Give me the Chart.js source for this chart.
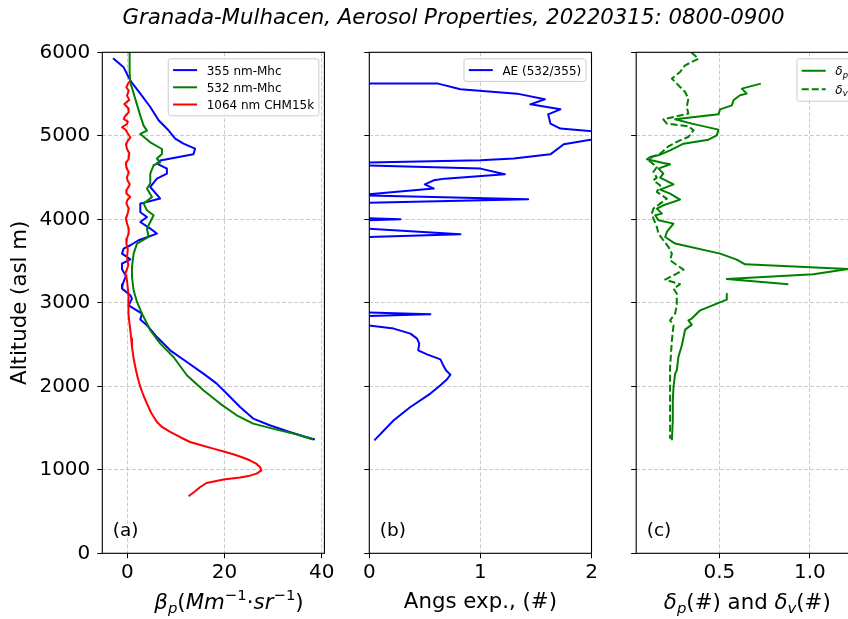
<!DOCTYPE html>
<html><head><meta charset="utf-8">
<script src="https://cdn.jsdelivr.net/npm/chart.js@4.4.1/dist/chart.umd.min.js"></script>
<style>
html,body{margin:0;padding:0;background:#fff;overflow:hidden;width:848px;height:619px;}
canvas{position:absolute;left:0;top:0;}
</style></head><body>
<canvas id="ca" width="848" height="619"></canvas>
<canvas id="cb" width="848" height="619"></canvas>
<canvas id="cc" width="870" height="619"></canvas>
<script>
// ---------------- data ----------------
const yTicks = [0, 1000, 2000, 3000, 4000, 5000, 6000];
const yTickLabels = ['0', '1000', '2000', '3000', '4000', '5000', '6000'];
const xTicksA = [0, 20, 40],   xTickLabelsA = ['0', '20', '40'];
const xTicksB = [0, 1, 2],     xTickLabelsB = ['0', '1', '2'];
const xTicksC = [0.5, 1.0],    xTickLabelsC = ['0.5', '1.0'];

// (a) backscatter coefficient, Mm-1 sr-1
const alt355 = [5928,5820,5661,5505,5345,5186,5066,4966,4906,4846, 4780,4703,4667,4607,4547,4487,4387,4248,4188,4084,
  4027,3968,3889,3829,3749,3689,3649,3589,3521,3470, 3401,3320,3222,3170,3090,3050,2970,2871,2799,2731,
  2590,2431,2291,2152,2032,1913,1752,1613,1533,1453, 1401,1362];
const beta355 = [-2.93,-0.76,0.62,2.67,4.72,6.43,8.47,9.85,11.55,13.95, 13.6,6.77,6.09,8.14,8.14,6.09,4.72,6.77,2.67,2.67,
  4.04,2.67,4.72,6.09,2.32,0.62,-0.76,-1.09,0.62,-1.09, -1.09,-0.3,-0.96,-1.09,0.62,0.96,0.27,3.02,2.67,4.04,
  6.09,8.82,12.25,15.65,18.4,20.45,23.2,25.9,29.3,33.4, 36.2,38.6];

const alt532 = [6000,5760,5640,5441,5242,5122,5062,5022,4922,4842, 4782,4727,4683,4647,4547,4428,4368,4267,4188,4108,
  4048,3968,3889,3788,3709,3589,3429,3309,3150,3010, 2871,2671,2511,2351,2132,1952,1793,1653,1553,1481, 1425,1362];
const beta532 = [0.47,0.47,0.62,1.64,2.67,3.35,4.04,2.67,4.72,7.12, 7.12,6.09,6.77,5.4,4.72,4.72,4.04,5.07,3.35,4.04,
  5.4,4.72,4.04,4.37,1.99,1.29,0.96,0.96,1.29,1.99, 3.02,4.72,6.77,9.5,12.25,15.65,19.08,22.5,25.9,30.7, 34.8,38.2];

const alt1064 = [5661,5620,5581,5540,5481,5430,5381,5330,5281,5240, 5201,5170,5141,5102,5070,5042,5010,4982,4940,4900,
  4842,4790,4722,4680,4623,4560,4500,4463,4420,4387, 4350,4308,4267,4230,4188,4130,4068,4010,3948,3890,
  3829,3770,3709,3640,3549,3450,3350,3269,3170,3070, 2971,2871,2771,2671,2571,2471,2351,2231,2112,1992,
  1893,1793,1683,1572,1510,1453,1393,1333,1294,1254, 1220,1186,1150,1114,1074,1034,994,954,930,907,
  883,842,794,740,683];
const beta1064 = [0.62,0.1,-0.2,0.3,-0.07,0.4,-0.62,0.2,0.27,-0.4, -0.75,0.1,-0.07,-1.09,-0.3,-0.07,0.3,0.62,0.1,-0.3,
  -0.07,0.4,0.27,-0.3,-0.2,0.3,-0.1,0.07,0.5,0.27, -0.2,-0.2,0.62,0.0,-0.2,0.3,0.07,-0.3,-0.07,0.3,
  0.27,-0.1,-0.2,0.1,-0.07,0.2,-0.41,-0.07,0.1,0.27, 0.2,0.27,0.4,0.62,0.8,0.96,1.25,1.64,2.1,2.67,
  3.3,4.04,4.9,6.09,7.2,8.82,10.8,12.9,15.2,17.7, 19.8,21.8,23.6,25.2,26.5,27.3,27.6,26.6,25.2,23.2,
  19.8,16.3,15.0,13.9,12.6];

// (b) Angstrom exponent 532/355
const altAE = [5640,5625,5557,5505,5437,5377,5317,5257,5146,5086, 5024,4898,4778,4727,4707,4665,4607,4539,4487,4467,
  4419,4368,4288,4240,4195,4030,4000,3975,3895,3820, 3780,3500,3200,2950,2890,2862,2830,2745,2691,2631,
  2571,2511,2431,2383,2323,2239,2192,2140,2084,2012, 1913,1752,1593,1353];
const valAE = [-3.0,0.62,0.82,1.33,1.58,1.45,1.72,1.61,1.63,1.72, 2.3,1.75,1.63,1.30,1.0,-0.5,1.0,1.22,0.68,0.58,
  0.50,0.58,-0.1,1.43,-0.1,-0.4,0.28,-0.4,-0.1,0.82, -0.2,-0.6,-0.8,-0.5,-0.2,0.55,-0.4,-0.1,0.22,0.37,
  0.43,0.45,0.44,0.52,0.64,0.67,0.69,0.73,0.70,0.64, 0.55,0.37,0.22,0.045];

// (c) particle (dp) and volume (dv) depolarization ratios
const altDp = [5625,5565,5505,5485,5425,5365,5317,5257,5198,5146, 5074,5006,4954,4906,4826,4766,4746,4719,4675,4659,
  4607,4547,4499,4419,4356,4308,4236,4168,4128,4068, 4048,3988,3948,3848,3788,3709,3589,3517,3461,3405,
  3341,3285,3222,3165,3109,3038,2910,2811,2790,2739, 2679,2491,2351,2192,2152,1992,1832,1593,1353];
const valDp = [0.729,0.624,0.651,0.614,0.578,0.569,0.504,0.495,0.256,0.348, 0.495,0.486,0.440,0.302,0.228,0.164,0.118,0.100,0.191,0.228,
  0.164,0.191,0.173,0.247,0.173,0.228,0.283,0.191,0.155,0.183, 0.146,0.164,0.247,0.210,0.201,0.256,0.504,0.596,0.642,1.211,
  1.019,0.541,0.881,null,0.541,0.541,0.394,0.348,0.329,0.348, 0.311,0.293,0.274,0.265,0.256,0.247,0.243,0.243,0.238];

const altDv = [6000,5924,5844,5764,5685,5625,5525,5445,5345,5266, 5198,5146,5114,5066,4986,4946,4874,4786,4746,4707,
  4627,4567,4499,4467,4407,4327,4248,4188,4128,4068, 4008,3908,3829,3749,3669,3589,3509,3397,3350,3278,
  3222,3170,3109,2970,2871,2790,2731,2551,2231,1952, 1673,1373];
const valDv = [0.345,0.385,0.311,0.283,0.238,0.265,0.311,0.329,0.320,0.329, 0.191,0.210,0.329,0.357,0.329,0.283,0.219,0.173,0.127,0.109,
  0.155,0.136,0.155,0.136,0.173,0.155,0.210,0.173,0.136,0.127, 0.136,0.155,0.164,0.191,0.219,0.238,0.228,0.302,0.265,0.201,
  0.283,0.247,0.265,0.265,0.256,0.228,0.247,0.238,0.228,0.228, 0.228,0.228];

// ---------------- helpers ----------------
const FAM = "'DejaVu Sans', sans-serif";
Chart.defaults.font.family = FAM;
const TOP = 52.3, BOTTOM = 553.3, H = 619;
const GRID = 'rgba(170,170,170,0.75)';

function series(alts, vals) { return alts.map((a, i) => ({ x: vals[i], y: a })); }

function richParts(ctx, segs, size) {
  return segs.map(s => {
    const small = s.sub || s.sup;
    const fs = small ? size * 0.7 : size;
    const font = (s.it ? 'italic ' : '') + fs.toFixed(2) + 'px ' + FAM;
    ctx.font = font;
    return { t: s.t, font, w: ctx.measureText(s.t).width,
             dy: s.sub ? size * 0.2 : (s.sup ? -size * 0.42 : 0) };
  });
}
function richWidth(ctx, segs, size) { return richParts(ctx, segs, size).reduce((a, p) => a + p.w, 0); }
function drawRich(ctx, segs, x, baseline, size, align) {
  const parts = richParts(ctx, segs, size);
  const total = parts.reduce((a, p) => a + p.w, 0);
  let cx = align === 'center' ? x - total / 2 : x;
  ctx.textAlign = 'left'; ctx.textBaseline = 'alphabetic'; ctx.fillStyle = '#000';
  parts.forEach(p => { ctx.font = p.font; ctx.fillText(p.t, cx, baseline + p.dy); cx += p.w; });
}
function roundRectPath(ctx, x, y, w, h, r) {
  ctx.beginPath();
  ctx.moveTo(x + r, y); ctx.lineTo(x + w - r, y); ctx.arcTo(x + w, y, x + w, y + r, r);
  ctx.lineTo(x + w, y + h - r); ctx.arcTo(x + w, y + h, x + w - r, y + h, r);
  ctx.lineTo(x + r, y + h); ctx.arcTo(x, y + h, x, y + h - r, r);
  ctx.lineTo(x, y + r); ctx.arcTo(x, y, x + r, y, r); ctx.closePath();
}

const decor = {
  id: 'decor',
  afterDatasetsDraw(chart, args, o) {
    const ctx = chart.ctx, a = chart.chartArea;
    ctx.save();
    // axes frame
    ctx.setLineDash([]); ctx.lineWidth = 1.1; ctx.strokeStyle = '#000';
    ctx.strokeRect(a.left, a.top, a.right - a.left, a.bottom - a.top);
    // panel label
    ctx.fillStyle = '#000'; ctx.font = '18.5px ' + FAM; ctx.textAlign = 'left'; ctx.textBaseline = 'alphabetic';
    ctx.fillText(o.panel, a.left + 10.5, a.bottom - 17.5);
    // legend
    if (o.legend) {
      const L = o.legend, fs = 12;
      const tw = Math.max(...L.items.map(it => richWidth(ctx, it.segs, fs)));
      const w = 4.8 + 24 + 9.6 + tw + 4.8;
      const h = L.items.length * L.rowH + 2 * L.padV;
      const x0 = a.right - 5.5 - w, y0 = a.top + 6.5;
      roundRectPath(ctx, x0, y0, w, h, 2.4);
      ctx.fillStyle = 'rgba(255,255,255,0.8)'; ctx.fill();
      ctx.lineWidth = 1; ctx.strokeStyle = '#cccccc'; ctx.stroke();
      L.items.forEach((it, i) => {
        const ds = chart.data.datasets[it.ds];
        const cy = y0 + L.padV + L.rowH * (i + 0.5);
        ctx.beginPath(); ctx.strokeStyle = ds.borderColor; ctx.lineWidth = ds.borderWidth;
        ctx.setLineDash(ds.borderDash || []);
        ctx.moveTo(x0 + 4.8, cy); ctx.lineTo(x0 + 28.8, cy); ctx.stroke();
        ctx.setLineDash([]);
        drawRich(ctx, it.segs, x0 + 38.4, cy + 4.4, fs, 'left');
      });
    }
    // rich x-axis title
    if (o.xTitle) drawRich(ctx, o.xTitle.segs, o.xTitle.cx, o.xTitle.baseline, 21.3, 'center');
    // figure title
    if (o.suptitle) {
      ctx.fillStyle = '#000'; ctx.font = 'italic 21.3px ' + FAM;
      ctx.textAlign = 'center'; ctx.textBaseline = 'middle';
      ctx.fillText(o.suptitle.text, o.suptitle.x, o.suptitle.y);
    }
    ctx.restore();
  }
};

function gridOpts() {
  return { color: GRID, lineWidth: 0.8, tickLength: 5, tickColor: '#000', tickWidth: 1, tickBorderDash: [] };
}

function makeChart(id, W, left, right, xmin, xmax, xticks, xlabels, showY, datasets, deco, xTitleText, yTitleText) {
  return new Chart(document.getElementById(id), {
    type: 'scatter',
    data: { datasets },
    plugins: [decor],
    options: {
      responsive: false, animation: false, devicePixelRatio: 1,
      events: [],
      layout: { padding: { left: 0, top: TOP, right: W - right, bottom: 0 } },
      plugins: { legend: { display: false }, tooltip: { enabled: false }, decor: deco },
      scales: {
        x: {
          type: 'linear', min: xmin, max: xmax, bounds: 'data',
          afterFit: s => { s.height = H - BOTTOM; },
          afterBuildTicks: s => { s.ticks = xticks.map(v => ({ value: v })); },
          ticks: { font: { size: 20 }, color: '#000', padding: 2.6, autoSkip: false, maxRotation: 0,
                   callback: (v, i) => xlabels[i] },
          grid: gridOpts(),
          border: { display: false, dash: [4, 2] },
          title: { display: !!xTitleText, text: xTitleText || '', color: '#000', font: { size: 21.3 },
                   padding: { top: 0, bottom: 3.6 } }
        },
        y: {
          type: 'linear', min: 0, max: 6000, bounds: 'data',
          afterFit: s => { s.width = left; },
          afterBuildTicks: s => { s.ticks = yTicks.map(v => ({ value: v })); },
          ticks: { display: showY, font: { size: 20 }, color: '#000', padding: 7, autoSkip: false,
                   callback: (v, i) => yTickLabels[i] },
          grid: gridOpts(),
          border: { display: false, dash: [4, 2] },
          title: { display: !!yTitleText, text: yTitleText || '', color: '#000', font: { size: 21.3 },
                   padding: { top: 7.7, bottom: 0 } }
        }
      }
    }
  });
}

const lineBase = { showLine: true, pointRadius: 0, pointHoverRadius: 0, borderWidth: 2, fill: false,
                   tension: 0, borderJoinStyle: 'round', spanGaps: false };

// ---------------- panel (a) ----------------
makeChart('ca', 848, 102.3, 324.4, -5.15, 40.55, xTicksA, xTickLabelsA, true, [
  Object.assign({ label: '355 nm-Mhc', data: series(alt355, beta355), borderColor: '#0000ff', order: 3 }, lineBase),
  Object.assign({ label: '532 nm-Mhc', data: series(alt532, beta532), borderColor: '#008000', order: 2 }, lineBase),
  Object.assign({ label: '1064 nm CHM15k', data: series(alt1064, beta1064), borderColor: '#ff0000', order: 1 }, lineBase)
], {
  panel: '(a)',
  legend: { rowH: 17.2, padV: 2.7, items: [
    { ds: 0, segs: [{ t: '355 nm-Mhc' }] },
    { ds: 1, segs: [{ t: '532 nm-Mhc' }] },
    { ds: 2, segs: [{ t: '1064 nm CHM15k' }] } ] },
  xTitle: { cx: 229, baseline: 609, segs: [
    { t: 'β', it: 1 }, { t: 'p', it: 1, sub: 1 }, { t: '(' }, { t: 'Mm', it: 1 }, { t: '−1', sup: 1 },
    { t: '·' }, { t: 'sr', it: 1 }, { t: '−1', sup: 1 }, { t: ')' } ] },
  suptitle: { text: 'Granada-Mulhacen, Aerosol Properties, 20220315: 0800-0900', x: 453.5, y: 18 }
}, null, 'Altitude (asl m)');

// ---------------- panel (b) ----------------
makeChart('cb', 848, 369.3, 591.5, 0, 2, xTicksB, xTickLabelsB, false, [
  Object.assign({ label: 'AE (532/355)', data: series(altAE, valAE), borderColor: '#0000ff', order: 1 }, lineBase)
], {
  panel: '(b)',
  legend: { rowH: 17.2, padV: 2.7, items: [ { ds: 0, segs: [{ t: 'AE (532/355)' }] } ] }
}, 'Angs exp., (#)', null);

// ---------------- panel (c) ----------------
makeChart('cc', 870, 636.2, 858.3, 0.041, 1.267, xTicksC, xTickLabelsC, false, [
  Object.assign({ label: 'δp', data: series(altDp, valDp), borderColor: '#008000', order: 2 }, lineBase),
  Object.assign({ label: 'δv', data: series(altDv, valDv), borderColor: '#008000', borderDash: [7, 3], order: 1 }, lineBase)
], {
  panel: '(c)',
  legend: { rowH: 18.5, padV: 2.7, items: [
    { ds: 0, segs: [{ t: 'δ', it: 1 }, { t: 'p', it: 1, sub: 1 }] },
    { ds: 1, segs: [{ t: 'δ', it: 1 }, { t: 'v', it: 1, sub: 1 }] } ] },
  xTitle: { cx: 747.3, baseline: 609, segs: [
    { t: 'δ', it: 1 }, { t: 'p', it: 1, sub: 1 }, { t: '(#) and ' },
    { t: 'δ', it: 1 }, { t: 'v', it: 1, sub: 1 }, { t: '(#)' } ] }
}, null, null);
</script>
</body></html>
